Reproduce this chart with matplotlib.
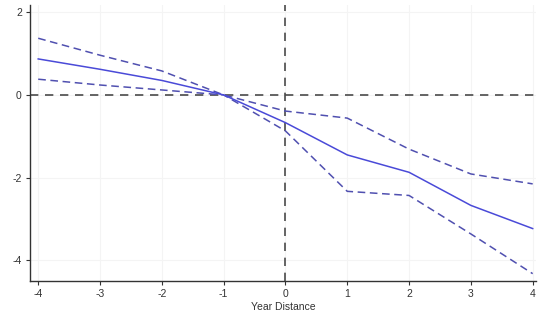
import matplotlib
matplotlib.use("Agg")
import matplotlib.pyplot as plt

years = [-4, -3, -2, -1, 0, 1, 2, 3, 4]
coef = [0.87, 0.62, 0.35, 0.0, -0.67, -1.45, -1.87, -2.67, -3.23]
ci_upper = [1.37, 0.96, 0.58, 0.0, -0.39, -0.56, -1.31, -1.91, -2.15]
ci_lower = [0.38, 0.24, 0.12, 0.0, -0.87, -2.33, -2.43, -3.36, -4.32]

x_ticks = [-4, -3, -2, -1, 0, 1, 2, 3, 4]
y_ticks = [-4, -2, 0, 2]

plt.rcParams['font.family'] = ['Liberation Sans', 'DejaVu Sans']

fig = plt.figure(figsize=(5.39, 3.22), dpi=100)
ax = fig.add_axes([0.056, 0.127, 0.938, 0.857])

ax.grid(True, color='#f4f4f4', linewidth=0.8)
ax.set_axisbelow(True)

ax.axhline(0, color='#4a4a4a', linestyle=(0, (5, 4)), linewidth=1.2, zorder=1)
ax.axvline(0, color='#4a4a4a', linestyle=(0, (5, 4)), linewidth=1.2, zorder=1)

ax.plot(years, ci_upper, color='#5050b0', linestyle=(0, (5, 3)), linewidth=1.1)
ax.plot(years, ci_lower, color='#5050b0', linestyle=(0, (5, 3)), linewidth=1.1)
ax.plot(years, coef, color='#4a4ad8', linewidth=1.1)

ax.set_xlim(-4.13, 4.05)
ax.set_ylim(-4.5, 2.17)
ax.set_xticks(x_ticks)
ax.set_xticklabels([str(t) for t in x_ticks])
ax.set_yticks(y_ticks)
ax.set_yticklabels([str(t) for t in y_ticks])

ax.tick_params(labelsize=7.5, colors='#333333', length=3, width=0.8, pad=3)
for side in ['top', 'right']:
    ax.spines[side].set_visible(False)
for side in ['left', 'bottom']:
    ax.spines[side].set_color('#333333')
    ax.spines[side].set_linewidth(1.0)

ax.set_xlabel('Year Distance', fontsize=7.5, color='#333333', labelpad=2)

fig.savefig('out.png', dpi=100, facecolor='white')
